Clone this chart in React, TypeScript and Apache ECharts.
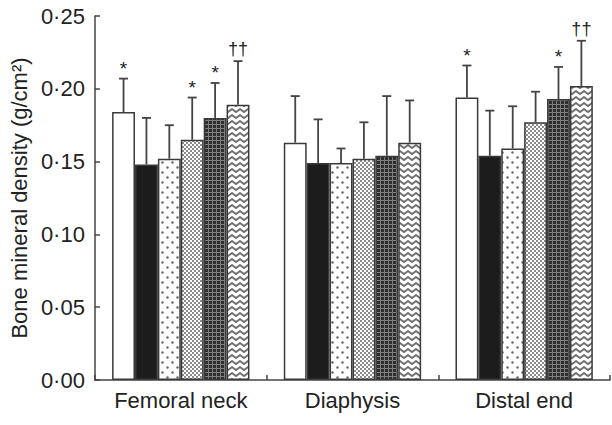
import React, { useEffect, useRef } from "react";
import * as echarts from "echarts";

const categories = ["Femoral neck", "Diaphysis", "Distal end"];
const yMin = 0;
const yMax = 0.25;
const yInterval = 0.05;
const yAxisTitle = "Bone mineral density (g/cm²)";

// six groups (bars within each category), values per category
const meansWhite = [0.184, 0.163, 0.194];
const meansBlack = [0.148, 0.149, 0.154];
const meansSparseDots = [0.152, 0.149, 0.159];
const meansDenseDots = [0.165, 0.152, 0.177];
const meansGrid = [0.18, 0.154, 0.193];
const meansZigzag = [0.189, 0.163, 0.202];

const sdWhite = [0.023, 0.032, 0.022];
const sdBlack = [0.032, 0.03, 0.031];
const sdSparseDots = [0.023, 0.01, 0.029];
const sdDenseDots = [0.029, 0.025, 0.021];
const sdGrid = [0.024, 0.041, 0.022];
const sdZigzag = [0.03, 0.029, 0.031];

const marksWhite = ["*", "", "*"];
const marksBlack = ["", "", ""];
const marksSparseDots = ["", "", ""];
const marksDenseDots = ["*", "", ""];
const marksGrid = ["*", "", "*"];
const marksZigzag = ["††", "", "††"];

const allMeans = [meansWhite, meansBlack, meansSparseDots, meansDenseDots, meansGrid, meansZigzag];
const allSds = [sdWhite, sdBlack, sdSparseDots, sdDenseDots, sdGrid, sdZigzag];
const allMarks = [marksWhite, marksBlack, marksSparseDots, marksDenseDots, marksGrid, marksZigzag];

const FONT = "'Liberation Sans', Arial, Helvetica, sans-serif";
const EDGE = "#3a3a3a";

function makeTile(w: number, h: number, draw: (ctx: CanvasRenderingContext2D) => void) {
  const c = document.createElement("canvas");
  c.width = w;
  c.height = h;
  const ctx = c.getContext("2d")!;
  draw(ctx);
  return c;
}

function patterns() {
  const sparse = makeTile(10, 10, (ctx) => {
    ctx.fillStyle = "#fff";
    ctx.fillRect(0, 0, 10, 10);
    ctx.fillStyle = "#666";
    [[2.5, 2.5], [7.5, 7.5]].forEach(([x, y]) => {
      ctx.beginPath();
      ctx.arc(x, y, 1.2, 0, Math.PI * 2);
      ctx.fill();
    });
  });
  const dense = makeTile(4, 4, (ctx) => {
    ctx.fillStyle = "#fff";
    ctx.fillRect(0, 0, 4, 4);
    ctx.fillStyle = "#666";
    [[1, 1], [3, 3]].forEach(([x, y]) => {
      ctx.beginPath();
      ctx.arc(x, y, 1.0, 0, Math.PI * 2);
      ctx.fill();
    });
  });
  const grid = makeTile(4, 4, (ctx) => {
    ctx.fillStyle = "#2e2e2e";
    ctx.fillRect(0, 0, 4, 4);
    ctx.fillStyle = "#808080";
    ctx.fillRect(0, 0, 4, 1);
    ctx.fillRect(0, 0, 1, 4);
  });
  const zig = makeTile(8, 6, (ctx) => {
    ctx.fillStyle = "#fff";
    ctx.fillRect(0, 0, 8, 6);
    ctx.strokeStyle = "#707070";
    ctx.lineWidth = 1.8;
    ctx.beginPath();
    ctx.moveTo(-4, 4);
    ctx.lineTo(0, 1);
    ctx.lineTo(4, 4);
    ctx.lineTo(8, 1);
    ctx.lineTo(12, 4);
    ctx.stroke();
  });
  return [
    "#ffffff",
    "#1c1c1c",
    { image: sparse, repeat: "repeat" },
    { image: dense, repeat: "repeat" },
    { image: grid, repeat: "repeat" },
    { image: zig, repeat: "repeat" },
  ];
}

export default function App() {
  const ref = useRef<HTMLDivElement>(null);
  useEffect(() => {
    document.body.style.margin = "0";
    const chart = echarts.init(ref.current!, null, { renderer: "svg" });
    const fills = patterns();
    const nSeries = allMeans.length;

    const errData: number[][] = [];
    const errMarks: string[] = [];
    allMeans.forEach((means, s) => {
      means.forEach((m, g) => {
        errData.push([g, s, m, allSds[s][g]]);
        errMarks.push(allMarks[s][g]);
      });
    });

    const barSeries = allMeans.map((means, s) => ({
      type: "bar",
      data: means,
      barGap: "0%",
      barCategoryGap: "20%",
      itemStyle: { color: fills[s] as any, borderColor: EDGE, borderWidth: 1.5 },
      emphasis: { disabled: true },
      z: 2,
    }));

    chart.setOption({
      animation: false,
      grid: { left: 92, right: 2, top: 16, bottom: 45, containLabel: false },
      xAxis: {
        type: "category",
        data: categories,
        axisLine: { lineStyle: { color: "#444", width: 1.5 } },
        axisTick: { show: true, inside: true, length: 5, lineStyle: { color: "#444", width: 1.5 } },
        axisLabel: { interval: 0, fontSize: 22, color: "#222", margin: 9, fontFamily: FONT },
      },
      yAxis: {
        type: "value",
        min: yMin,
        max: yMax,
        interval: yInterval,
        splitLine: { show: false },
        axisLine: { show: true, lineStyle: { color: "#444", width: 1.5 } },
        axisTick: { show: true, inside: true, length: 5, lineStyle: { color: "#444", width: 1.5 } },
        axisLabel: {
          fontSize: 22,
          color: "#222",
          margin: 10,
          fontFamily: FONT,
          formatter: (v: number) => v.toFixed(2).replace(".", "·"),
        },
        name: yAxisTitle,
        nameLocation: "middle",
        nameGap: 60,
        nameTextStyle: { fontSize: 22, color: "#222", fontFamily: FONT },
      },
      series: [
        ...barSeries,
        {
          type: "custom",
          z: 5,
          data: errData,
          encode: { x: 0, y: 2 },
          renderItem: (params: any, api: any) => {
            const g = api.value(0);
            const s = api.value(1);
            const m = api.value(2);
            const sd = api.value(3);
            const band = api.size([1, 0])[0];
            const bw = (band * 0.8) / nSeries;
            const base = api.coord([g, m]);
            const x = base[0] + (s - (nSeries - 1) / 2) * bw;
            const top = api.coord([g, m + sd])[1];
            const mark = errMarks[params.dataIndex];
            const lineStyle = { stroke: "#444", lineWidth: 1.8 };
            const children: any[] = [
              { type: "line", shape: { x1: x, y1: base[1], x2: x, y2: top }, style: lineStyle },
              { type: "line", shape: { x1: x - 4.5, y1: top, x2: x + 4.5, y2: top }, style: lineStyle },
            ];
            if (mark) {
              children.push({
                type: "text",
                x,
                y: mark === "*" ? top - 1 : top - 3,
                style: {
                  text: mark,
                  fill: "#222",
                  fontSize: mark === "*" ? 19 : 18,
                  fontFamily: FONT,
                  align: "center",
                  verticalAlign: "bottom",
                },
              });
            }
            return { type: "group", children };
          },
        },
      ],
    } as any);
    return () => chart.dispose();
  }, []);
  return <div ref={ref} style={{ width: 612, height: 425 }} />;
}
